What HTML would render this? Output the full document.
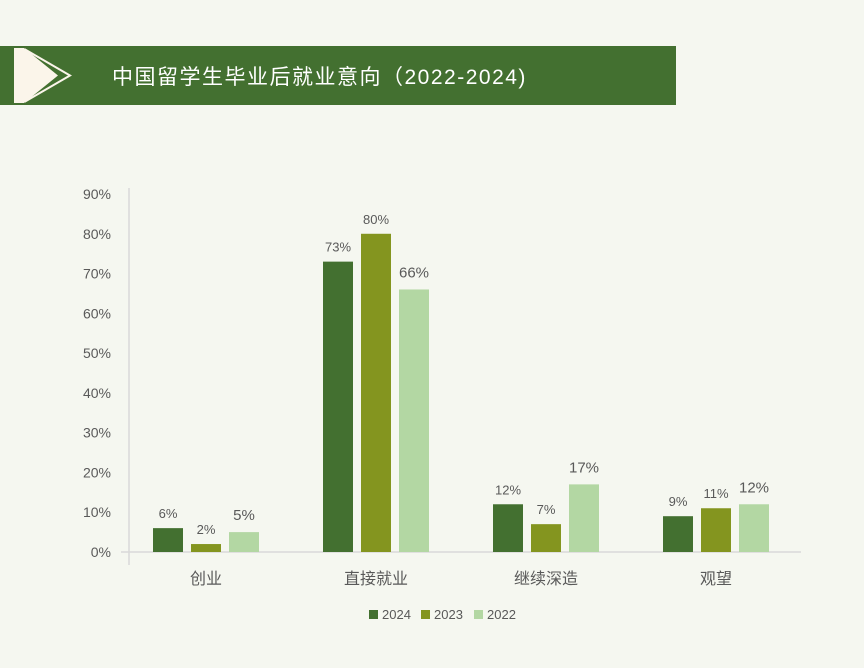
<!DOCTYPE html>
<html><head><meta charset="utf-8">
<style>
body{margin:0;background:#f5f7f0;font-family:"Liberation Sans","Noto Sans CJK SC",sans-serif;}
#wrap{position:relative;width:864px;height:668px;overflow:hidden;background:#f5f7f0;}
</style></head>
<body>
<div id="wrap">
<svg width="864" height="668">
  <g>
    <rect x="0" y="46" width="676" height="59" fill="#437030"/>
    <polygon points="26,50 70,75.5 26,101" fill="none" stroke="#fbf5ea" stroke-width="2"/>
    <polygon points="14,48 24,48 58,75.5 24,103 14,103" fill="#fbf5ea"/>
    <text x="112" y="84" fill="#ffffff" font-size="21" letter-spacing="1.5">中国留学生毕业后就业意向（2022-2024)</text>
  </g>
  <g id="axes"></g>
  <g id="bars"></g>
  <g id="legend"></g>
</svg>
</div>
<script>
const categories = ["创业","直接就业","继续深造","观望"];
const seriesNames = ["2024","2023","2022"];
const values2024 = [6,73,12,9];
const values2023 = [2,80,7,11];
const values2022 = [5,66,17,12];
const yTicks = [0,10,20,30,40,50,60,70,80,90];
const tickLabels = ["0%","10%","20%","30%","40%","50%","60%","70%","80%","90%"];
const colors = ["#437030","#84951f","#b3d7a3"];

const NS="http://www.w3.org/2000/svg";
const y0=552, yPer=(552-194)/90;
function y(v){return y0 - v*yPer;}
const plotL=121, band=170;
function xCenter(i){return plotL + band*i + band/2;}
function mk(tag,attrs,parent){const e=document.createElementNS(NS,tag);for(const k in attrs)e.setAttribute(k,attrs[k]);parent.appendChild(e);return e;}

const axes=document.getElementById('axes');
const yLine=mk('line',{x1:129,y1:188,x2:129,y2:565,stroke:'#d9d9d9','stroke-width':1.5},axes);


const xLine=mk('line',{x1:plotL,y1:y0,x2:801,y2:y0,stroke:'#d9d9d9','stroke-width':1.5},axes);


yTicks.forEach((t,i)=>{
  const tx=mk('text',{x:111,y:y(t)+5,'text-anchor':'end','font-size':14,fill:'#595959'},axes);
  tx.textContent=tickLabels[i];
  
  
});
categories.forEach((c,i)=>{
  const tx=mk('text',{x:xCenter(i),y:584,'text-anchor':'middle','font-size':16,fill:'#595959'},axes);
  tx.textContent=c;
  
  
});

const bars=document.getElementById('bars');
const all=[values2024,values2023,values2022];
const bw=30, step=38;
all.forEach((vals,s)=>{
  vals.forEach((v,i)=>{
    const x=xCenter(i)-bw/2+(s-1)*step;
    const r=mk('rect',{x:x,y:y(v),width:bw,height:y0-y(v),fill:colors[s]},bars);
    
    
    const big=s===2;
    const t=mk('text',{x:x+bw/2,y:y(v)-(big?12:10),'text-anchor':'middle','font-size':big?15:13,fill:'#595959'},bars);
    t.textContent=v+'%';
    
    
  });
});

const legend=document.getElementById('legend');
const lx=[369,421,474];
seriesNames.forEach((n,s)=>{
  const g=mk('g',{},legend);
  
  
  mk('rect',{x:lx[s],y:610,width:9,height:9,fill:colors[s]},g);
  const t=mk('text',{x:lx[s]+13,y:619,'font-size':13,fill:'#595959'},g);
  t.textContent=n;
});
</script>
</body></html>
